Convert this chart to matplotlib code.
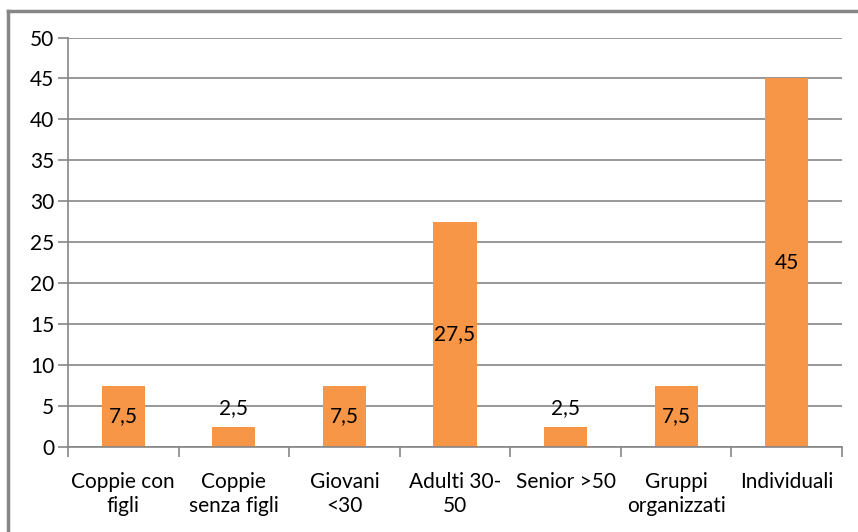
import matplotlib.pyplot as plt
from matplotlib.lines import Line2D
import numpy as np

categories = ["Coppie con\nfigli", "Coppie\nsenza figli", "Giovani\n<30", "Adulti 30-\n50",
              "Senior >50", "Gruppi\norganizzati", "Individuali"]
values = [7.5, 2.5, 7.5, 27.5, 2.5, 7.5, 45]
value_labels = ["7,5", "2,5", "7,5", "27,5", "2,5", "7,5", "45"]

plt.rcParams['font.family'] = ['Lato', 'DejaVu Sans']
grey = "#868686"

fig = plt.figure(figsize=(8.58, 5.32), dpi=100)
ax = fig.add_axes([68 / 858, 1 - 447 / 532, (842 - 68) / 858, (447 - 37.5) / 532])

x = np.arange(len(categories))
bars = ax.bar(x, values, width=0.39, color="#f79646", zorder=2)

for xi, v, lab in zip(x, values, value_labels):
    if v < 5:
        ax.text(xi, v + 1.0, lab, ha="center", va="bottom", fontsize=15)
    else:
        ax.text(xi, v / 2, lab, ha="center", va="center", fontsize=15)

ax.set_xlim(-0.5, len(categories) - 0.5)
ax.set_ylim(0, 50)
ax.set_yticks(np.arange(0, 51, 5))
ax.yaxis.grid(True, color=grey, linewidth=1.2, zorder=0)
ax.set_axisbelow(True)

ax.set_xticks(x)
ax.set_xticklabels(categories, fontsize=15, linespacing=1.25)
ax.tick_params(axis="x", length=0, pad=18)
ax.set_xticks(np.arange(-0.5, len(categories)), minor=True)
ax.tick_params(axis="x", which="minor", length=7, color=grey, width=1.2)
ax.tick_params(axis="y", length=7, color=grey, width=1.2, labelsize=15, pad=3)

for side in ["top", "right"]:
    ax.spines[side].set_visible(False)
ax.spines["left"].set_color(grey)
ax.spines["bottom"].set_color(grey)
ax.spines["left"].set_linewidth(1.2)
ax.spines["bottom"].set_linewidth(1.2)

# outer chart frame
fig.add_artist(Line2D([7.5 / 858, 7.5 / 858], [0, 1 - 11 / 532], color=grey, linewidth=2.5))
fig.add_artist(Line2D([7.5 / 858, 1], [1 - 11 / 532, 1 - 11 / 532], color=grey, linewidth=2.5))

fig.savefig("out.png", dpi=100)
